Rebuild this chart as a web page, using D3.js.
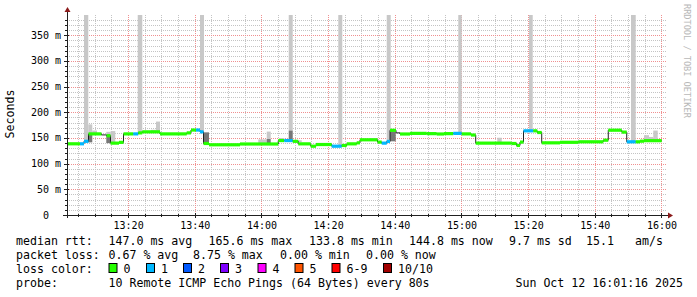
<!DOCTYPE html>
<html><head><meta charset="utf-8">
<script src="https://cdn.jsdelivr.net/npm/d3@7"></script>
<style>
body{margin:0;background:#fff}
svg{display:block}
text{font-family:"DejaVu Sans Mono",monospace;fill:#000}
</style>
</head><body><svg id="c" width="697" height="297"></svg>
<script>
// ---------- data ----------
const yTickValues = [0, 50, 100, 150, 200, 250, 300, 350];
const yTickLabels = ["0", "50 m", "100 m", "150 m", "200 m", "250 m", "300 m", "350 m"];
const xTickLabels = ["13:20","13:40","14:00","14:20","14:40","15:00","15:20","15:40","16:00"];

// median rtt (ms) step series: start time, value, loss bucket (null = fractional, no band)
const medianTimes = ["13:01:40","13:05:34","13:06:46","13:08:07","13:12:01","13:13:31","13:14:43","13:17:16","13:18:37","13:21:33",
  "13:23:03","13:24:15","13:29:34","13:37:35","13:38:52","13:40:22","13:41:34","13:42:37","13:44:16","13:53:34",
  "14:05:03","14:06:51","14:09:23","14:11:03","14:14:47","14:16:22","14:21:05","14:24:05","14:25:35","14:28:35",
  "14:29:34","14:34:49","14:36:05","14:37:35","14:38:34","14:40:22","14:41:34","14:44:34","14:49:35","14:52:35",
  "14:54:46","14:57:33","15:00:05","15:02:52","15:04:17","15:15:05","15:16:31","15:17:34","15:18:37","15:21:33",
  "15:22:45","15:24:05","15:29:34","15:35:03","15:42:33","15:44:03","15:48:05","15:49:35","15:52:17","15:53:34",
  "15:54:46"];
const medianValues = [138.7,138.7,143.5,158.0,156.0,154.5,140.0,141.5,158.0,158.0,
  160.0,162.0,158.0,160.0,165.5,165.5,162.0,139.3,136.8,138.3,
  145.0,145.0,143.5,138.6,134.0,137.3,134.0,135.4,138.6,140.6,
  146.5,142.0,140.0,143.3,165.0,160.0,157.8,159.0,158.5,157.8,
  158.5,159.0,158.0,155.8,140.0,139.3,135.5,142.0,164.0,164.0,
  160.7,140.6,141.6,142.6,145.7,165.2,161.5,142.6,142.6,143.8,
  144.8];
const medianLoss = [0,1,1,0,null,0,0,0,0,1,
  0,0,0,0,0,1,1,0,0,0,
  0,1,0,0,0,0,1,0,0,0,
  0,0,1,1,0,null,0,0,0,0,
  0,1,0,0,0,0,0,0,1,0,
  0,0,0,0,0,0,0,1,0,0,
  0];
const medianEnd = "16:00:05";

// smoke (ping spread) rectangles
const smokeStart = ["13:06:46","13:08:03","13:08:03","13:09:15","13:13:27","13:13:27","13:14:47","13:22:53","13:26:52","13:28:22",
  "13:41:34","13:42:46","13:59:03","14:01:35","14:01:35","14:05:21","14:08:11","14:08:11","14:09:23","14:23:03",
  "14:32:16","14:37:35","14:38:34","14:59:03","15:10:45","15:20:16","15:50:52","15:54:46","15:56:16","15:57:33"];
const smokeEnd = ["13:08:03","13:09:15","13:09:15","13:10:40","13:14:47","13:14:47","13:16:09","13:24:15","13:28:22","13:29:34",
  "13:42:46","13:44:16","14:01:35","14:02:47","14:02:47","14:06:51","14:09:23","14:09:23","14:12:05","14:24:15",
  "14:34:45","14:38:47","14:40:17","15:00:05","15:12:05","15:21:23","15:52:17","15:56:16","15:57:33","15:58:53"];
const smokeHigh = [400,176.5,157,164.5,162,155,163.5,400,166,182,
  400,161,147.3,162.5,148,150,400,164.5,145.5,400,
  150,400,163,400,150.5,400,400,155.5,152,164.5];
const smokeLow = [143,157,141.5,157,155,140,141,158,161,161,
  162,139,138.6,148,140,145,164.5,145,142,134,
  146,143,143.5,158,139,163,142,145,145,145];
const smokeShade = ["L","L","D","L","L","D","L","L","L","L",
  "L","D","L","L","D","L","L","D","L","L",
  "L","L","D","L","L","L","L","L","L","L"];

const lossLabels = ["0","1","2","3","4","5","6-9","10/10"];
const lossColors = ["#26ff00","#00b8ff","#0059ff","#7e00ff","#ff00ff","#ff5500","#ff0000","#a10000"];

const rttLegend = ["median rtt:","147.0 ms avg","165.6 ms max","133.8 ms min","144.8 ms now","9.7 ms sd","15.1","am/s"];
const lossLegend = ["packet loss:","0.67 % avg","8.75 % max","0.00 % min","0.00 % now"];
const probeLegend = ["probe:","10 Remote ICMP Echo Pings (64 Bytes) every 80s"];
const dateText = "Sun Oct 12 16:01:16 2025";

// ---------- layout ----------
const parse = d3.timeParse("%H:%M:%S");
const svg = d3.select("#c");
const L = 67, R = 667, T = 15, B = 215;
const x = d3.scaleTime().domain([parse("13:01:40"), parse("16:01:40")]).range([L, R]);
const y = d3.scaleLinear().domain([0, 389.6]).range([B, T]);

svg.append("rect").attr("width",697).attr("height",297).attr("fill","#fff");
svg.append("defs").append("clipPath").attr("id","clip")
  .append("rect").attr("x",L).attr("y",T).attr("width",R-L).attr("height",B-T);

// grid
const g = svg.append("g");
const minorX = x.ticks(d3.timeMinute.every(5));
const majorX = x.ticks(d3.timeMinute.every(20));
const majorSet = new Set(majorX.map(d=>+d));
minorX.filter(d=>!majorSet.has(+d)).forEach(d=>{
  const px = Math.round(x(d))+0.5;
  g.append("line").attr("x1",px).attr("x2",px).attr("y1",T).attr("y2",B)
   .attr("stroke","#c4c4c4").attr("stroke-dasharray","1,1");
});
const minorY = d3.range(10, 390, 10);
minorY.filter(v=>v%50!==0).forEach(v=>{
  const py = Math.round(y(v))+0.5;
  g.append("line").attr("x1",L).attr("x2",R).attr("y1",py).attr("y2",py)
   .attr("stroke","#c4c4c4").attr("stroke-dasharray","1,1");
});
majorX.forEach(d=>{
  const px = Math.round(x(d))+0.5;
  g.append("line").attr("x1",px).attr("x2",px).attr("y1",T).attr("y2",B)
   .attr("stroke","#f09090").attr("stroke-dasharray","1,1");
});
yTickValues.filter(v=>v>0).forEach(v=>{
  const py = Math.round(y(v))+0.5;
  g.append("line").attr("x1",L).attr("x2",R).attr("y1",py).attr("y2",py)
   .attr("stroke","#f09090").attr("stroke-dasharray","1,1");
});

// smoke
const sg = svg.append("g").attr("clip-path","url(#clip)");
smokeStart.forEach((s,i)=>{
  const x1 = x(parse(s)), x2 = x(parse(smokeEnd[i]));
  const y1 = y(smokeHigh[i]), y2 = y(smokeLow[i]);
  sg.append("rect").attr("x",x1).attr("width",x2-x1).attr("y",y1).attr("height",y2-y1)
    .attr("fill", smokeShade[i]==="D" ? "#777777" : "#c8c8c8");
});

// median thin line
const pts = medianTimes.map((t,i)=>[parse(t), medianValues[i]]);
pts.push([parse(medianEnd), medianValues[medianValues.length-1]]);
const line = d3.line().x(d=>x(d[0])).y(d=>y(d[1])).curve(d3.curveStepAfter);
svg.append("path").attr("d", line(pts)).attr("fill","none").attr("stroke","#202020").attr("stroke-width",1);

// loss coloured bands
medianTimes.forEach((t,i)=>{
  const b = medianLoss[i];
  if (b === null) return;
  const x1 = x(parse(t));
  const x2 = x(parse(i+1 < medianTimes.length ? medianTimes[i+1] : medianEnd));
  const yy = y(medianValues[i]);
  svg.append("rect").attr("x",x1).attr("width",x2-x1).attr("y",yy-1.6).attr("height",3.2)
    .attr("fill", lossColors[b]);
});

// axes
const ax = svg.append("g");
ax.append("line").attr("x1",L-4).attr("x2",R+4).attr("y1",B+0.5).attr("y2",B+0.5).attr("stroke","#202020");
ax.append("line").attr("x1",L+0.5).attr("x2",L+0.5).attr("y1",B+3).attr("y2",T-5).attr("stroke","#202020");
ax.append("path").attr("d",`M${R+1},${B-2.5}L${R+6},${B+0.5}L${R+1},${B+3.5}Z`).attr("fill","#8b1a1a");
ax.append("path").attr("d",`M${L-2.5},${T-3}L${L+0.5},${T-8}L${L+3.5},${T-3}Z`).attr("fill","#8b1a1a");
minorX.forEach(d=>{
  const px = Math.round(x(d))+0.5;
  const big = majorSet.has(+d);
  ax.append("line").attr("x1",px).attr("x2",px).attr("y1",B-(big?2:1)).attr("y2",B+(big?3:2)).attr("stroke","#202020");
});
minorY.forEach(v=>{
  const py = Math.round(y(v))+0.5;
  const big = v%50===0;
  ax.append("line").attr("x1",L-(big?3:2)).attr("x2",L+(big?2:1)).attr("y1",py).attr("y2",py).attr("stroke","#202020");
});

// tick labels
yTickValues.forEach((v,i)=>{
  const lab = yTickLabels[i];
  const xr = lab.indexOf(" ")<0 ? 61-12 : 61;
  svg.append("text").attr("x",xr).attr("y",y(v)+3.5).attr("text-anchor","end")
    .attr("font-size","10px").text(lab);
});
majorX.forEach((d,i)=>{
  svg.append("text").attr("x",x(d)+0.5).attr("y",229).attr("text-anchor","middle")
    .attr("font-size","10px").text(xTickLabels[i]);
});

// axis title
svg.append("text").attr("transform","translate(14,114) rotate(-90)").attr("text-anchor","middle")
  .attr("font-size","11.6px").text("Seconds");
// watermark
svg.append("text").attr("transform","translate(683.5,4) rotate(90)").attr("text-anchor","start")
  .attr("font-size","8.6px").style("fill","#b8b8b8").text("RRDTOOL / TOBI OETIKER");

// legend
const FS = "11.6px";
const rttX = [16,108.5,208.5,309,409,509,586,635];
rttLegend.forEach((t,i)=>svg.append("text").attr("x",rttX[i]).attr("y",244.5).attr("font-size",FS).text(t));
const lossX = [16,108.5,193,280,366];
lossLegend.forEach((t,i)=>svg.append("text").attr("x",lossX[i]).attr("y",258.5).attr("font-size",FS).text(t));
svg.append("text").attr("x",16).attr("y",272.5).attr("font-size",FS).text("loss color:");
const boxX = [108.5,146,183,220,257.5,294.5,331.5,383];
lossLabels.forEach((t,i)=>{
  svg.append("rect").attr("x",boxX[i]+0.5).attr("y",263.5).attr("width",8).attr("height",9)
    .attr("fill",lossColors[i]).attr("stroke","#000").attr("stroke-width",1);
  svg.append("text").attr("x",boxX[i]+15).attr("y",272.5).attr("font-size",FS).text(t);
});
const probeX = [16,108.5];
probeLegend.forEach((t,i)=>svg.append("text").attr("x",probeX[i]).attr("y",286.5).attr("font-size",FS).text(t));
svg.append("text").attr("x",683).attr("y",286.5).attr("text-anchor","end").attr("font-size",FS).text(dateText);
</script>
</body></html>
